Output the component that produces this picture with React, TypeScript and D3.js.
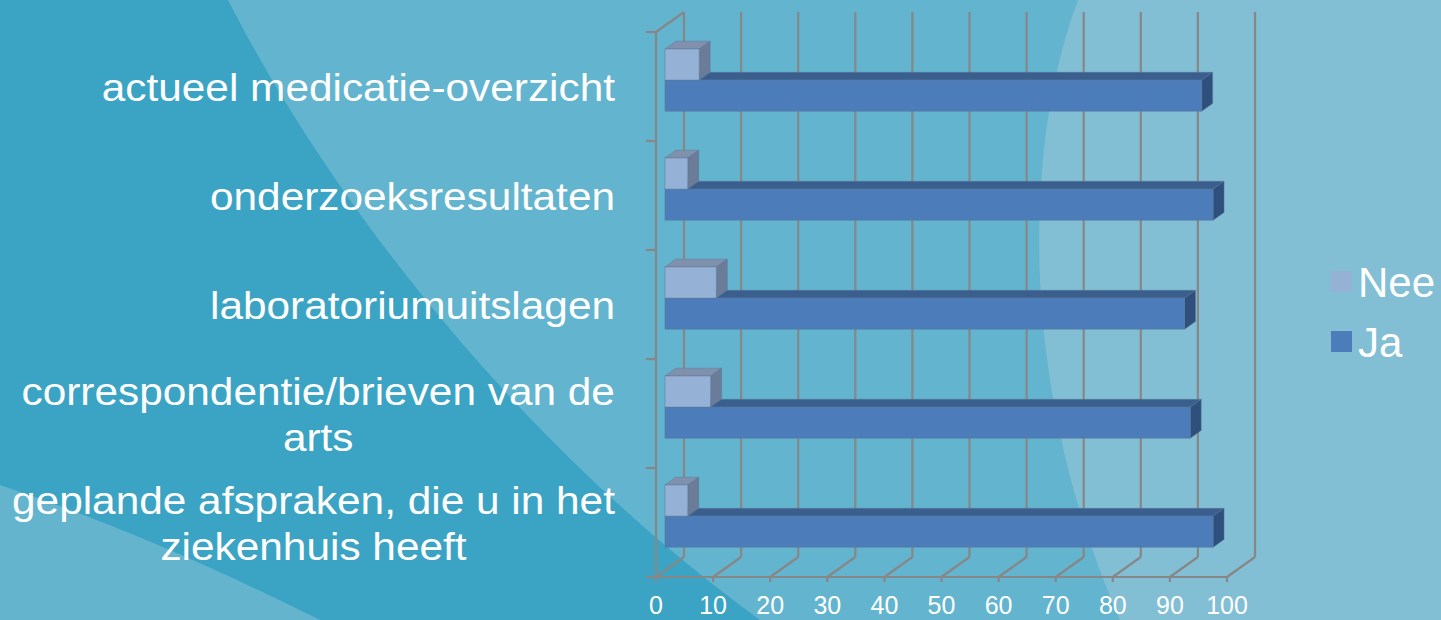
import * as d3 from "d3";

const WIDTH = 1441;
const HEIGHT = 620;

const categories = [
  "actueel medicatie-overzicht",
  "onderzoeksresultaten",
  "laboratoriumuitslagen",
  "correspondentie/brieven van de arts",
  "geplande afspraken, die u in het ziekenhuis heeft",
];
const categoryLines = [
  ["actueel medicatie-overzicht"],
  ["onderzoeksresultaten"],
  ["laboratoriumuitslagen"],
  ["correspondentie/brieven van de", "arts"],
  ["geplande afspraken, die u in het", "ziekenhuis heeft"],
];
const seriesNames = ["Nee", "Ja"];
const neeValues = [6, 4, 9, 8, 4];
const jaValues = [94, 96, 91, 92, 96];
const xTicks = [0, 10, 20, 30, 40, 50, 60, 70, 80, 90, 100];

const FONT = '"Liberation Sans", Arial, sans-serif';
const LABEL_SIZE = 38;
const LABEL_SX = 1.115;
const AXIS_SIZE = 25;

// 3D depth of the plot box (back wall offset from front)
const DX = 28;
const DY = -20;
const BAR_FRONT = 0.32;
const BAR_BACK = 0.71;

const COLORS = {
  Nee: { front: "#95b1d6", top: "#8091ae", side: "#6b7c99" },
  Ja: { front: "#4c7dba", top: "#3a5e8d", side: "#2f4f7c" },
};
const GRID = "#878787";

let ctx: CanvasRenderingContext2D | null = null;
function measure(text: string, size: number) {
  if (!ctx) ctx = document.createElement("canvas").getContext("2d");
  if (!ctx) return text.length * size * 0.5;
  ctx.font = `${size}px ${FONT}`;
  return ctx.measureText(text).width;
}

type Face = { d: string; fill: string };

function barFaces(x0: number, x1: number, y0: number, y1: number, c: { front: string; top: string; side: string }): Face[] {
  const a = DX * BAR_FRONT, b = DY * BAR_FRONT;
  const p = DX * BAR_BACK, q = DY * BAR_BACK;
  const poly = (pts: [number, number][]) => "M" + pts.map((d) => d.join(",")).join("L") + "Z";
  return [
    { d: poly([[x0 + a, y0 + b], [x1 + a, y0 + b], [x1 + p, y0 + q], [x0 + p, y0 + q]]), fill: c.top },
    { d: poly([[x1 + a, y0 + b], [x1 + p, y0 + q], [x1 + p, y1 + q], [x1 + a, y1 + b]]), fill: c.side },
    { d: poly([[x0 + a, y0 + b], [x1 + a, y0 + b], [x1 + a, y1 + b], [x0 + a, y1 + b]]), fill: c.front },
  ];
}

export default function App() {
  const x = d3.scaleLinear().domain([0, 100]).range([656, 1227]);
  const y = d3.scaleBand<string>().domain(categories).range([32, 577]);
  const ys = d3
    .scaleBand<string>()
    .domain(seriesNames)
    .range([0, y.bandwidth()])
    .paddingInner(0)
    .paddingOuter(0.75);

  const top = y.range()[0];
  const bottom = y.range()[1];
  const boundaries = categories.map((c) => y(c) ?? 0).concat([bottom]);

  return (
    <div style={{ position: "absolute", left: 0, top: 0 }}>
      <svg width={WIDTH} height={HEIGHT} style={{ display: "block" }}>
        {/* background */}
        <rect width={WIDTH} height={HEIGHT} fill="#82bed4" />
        <path d="M0,0 L1078,0 C1025,140 1015,380 1120,620 L0,620 Z" fill="#63b4ce" />
        <path d="M0,0 L228,0 C320,180 500,430 760,620 L0,620 Z" fill="#3ba4c4" />
        <path d="M0,485 Q150,535 320,620 L0,620 Z" fill="#65b4ce" />

        {/* back wall gridlines and floor */}
        <g stroke={GRID} strokeWidth={2.2} fill="none">
          {xTicks.map((t) => (
            <g key={t}>
              <line x1={x(t) + DX} x2={x(t) + DX} y1={top + DY} y2={bottom + DY} />
              <line x1={x(t)} y1={bottom} x2={x(t) + DX} y2={bottom + DY} />
              <line x1={x(t)} x2={x(t)} y1={bottom} y2={bottom + 5} />
            </g>
          ))}
          <line x1={x(0)} x2={x(100)} y1={bottom} y2={bottom} />
          <line x1={x(0)} x2={x(0)} y1={top} y2={bottom} />
          <line x1={x(0)} y1={top} x2={x(0) + DX} y2={top + DY} />
          {boundaries.map((b, i) => (
            <line key={i} x1={x(0) - 10} x2={x(0)} y1={b} y2={b} />
          ))}
        </g>

        {/* bars */}
        {categories.map((c, i) => {
          const y0 = y(c) ?? 0;
          const yJa = y0 + (ys("Ja") ?? 0);
          const yNee = y0 + (ys("Nee") ?? 0);
          const h = ys.bandwidth();
          const faces = [
            ...barFaces(x(0), x(jaValues[i]), yJa, yJa + h, COLORS.Ja),
            ...barFaces(x(0), x(neeValues[i]), yNee, yNee + h, COLORS.Nee),
          ];
          return (
            <g key={c}>
              {faces.map((f, j) => (
                <path key={j} d={f.d} fill={f.fill} stroke="#5d7896" strokeWidth={0.8} strokeOpacity={0.6} />
              ))}
            </g>
          );
        })}

        {/* category labels */}
        {categories.map((c, i) => {
          const lines = categoryLines[i];
          const cy = (y(c) ?? 0) + y.bandwidth() / 2 + 1;
          const lh = 46;
          const right = 615;
          if (lines.length === 1) {
            return (
              <text
                key={c}
                transform={`translate(${right},${cy}) scale(${LABEL_SX},1)`}
                textAnchor="end"
                dy="0.36em"
                fill="#fff"
                fontFamily={FONT}
                fontSize={LABEL_SIZE}
              >
                {lines[0]}
              </text>
            );
          }
          const maxW = d3.max(lines, (l) => measure(l, LABEL_SIZE)) ?? 0;
          const cx = right - (maxW * LABEL_SX) / 2;
          return (
            <g key={c}>
              {lines.map((l, k) => (
                <text
                  key={k}
                  transform={`translate(${cx},${cy + (k - (lines.length - 1) / 2) * lh}) scale(${LABEL_SX},1)`}
                  textAnchor="middle"
                  dy="0.36em"
                  fill="#fff"
                  fontFamily={FONT}
                  fontSize={LABEL_SIZE}
                >
                  {l}
                </text>
              ))}
            </g>
          );
        })}

        {/* x axis labels */}
        {xTicks.map((t) => (
          <text
            key={t}
            x={x(t)}
            y={bottom + 37}
            textAnchor="middle"
            fill="#fff"
            fontFamily={FONT}
            fontSize={AXIS_SIZE}
          >
            {t}
          </text>
        ))}

        {/* legend */}
        {seriesNames.map((s, i) => (
          <g key={s} transform={`translate(1331,${271 + i * 60})`}>
            <rect width={21} height={21} fill={COLORS[s as "Nee" | "Ja"].front} />
            <text x={27} y={10.5} dy="0.36em" fill="#fff" fontFamily={FONT} fontSize={42}>
              {s}
            </text>
          </g>
        ))}
      </svg>
    </div>
  );
}
